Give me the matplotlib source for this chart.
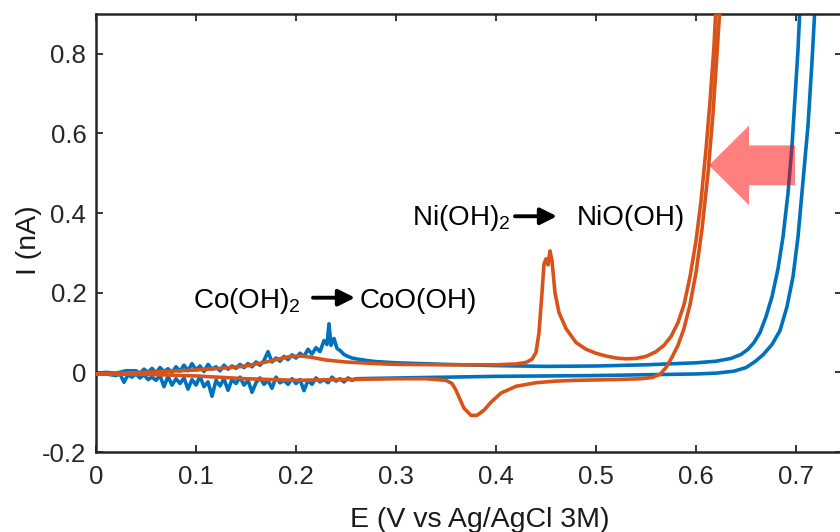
import matplotlib
matplotlib.use("Agg")
import matplotlib.pyplot as plt
from matplotlib.patches import FancyArrow, FancyArrowPatch

plt.rcParams['font.family'] = ['Liberation Sans', 'DejaVu Sans']
plt.rcParams['mathtext.fontset'] = 'custom'
plt.rcParams['mathtext.rm'] = 'Liberation Sans'
plt.rcParams['mathtext.it'] = 'Liberation Sans:italic'
plt.rcParams['mathtext.bf'] = 'Liberation Sans:bold'

# ---------------- data ----------------
# Blue CV loop: forward (upper) branch, then reverse (lower) branch
blue_E = [0.000, 0.010, 0.020, 0.030,
          0.040, 0.044, 0.048, 0.052, 0.056, 0.060, 0.064, 0.068, 0.072, 0.076,
          0.080, 0.084, 0.088, 0.092, 0.096, 0.100, 0.104, 0.108, 0.112, 0.116,
          0.120, 0.124, 0.128, 0.132, 0.136, 0.140, 0.144, 0.148, 0.152, 0.156,
          0.160, 0.164, 0.168, 0.172, 0.176, 0.180, 0.184, 0.188, 0.192, 0.196,
          0.200, 0.204, 0.208, 0.212, 0.216, 0.220, 0.224, 0.228, 0.231, 0.233,
          0.235, 0.238, 0.241, 0.244, 0.248, 0.252, 0.256, 0.260,
          0.270, 0.280, 0.300, 0.350, 0.400, 0.450, 0.500, 0.550, 0.600, 0.620,
          0.635, 0.645, 0.652, 0.658, 0.664, 0.670, 0.676, 0.682, 0.687, 0.692,
          0.696, 0.699, 0.702, 0.704,
          0.719, 0.716, 0.712, 0.707, 0.702, 0.697, 0.691, 0.684, 0.676, 0.667,
          0.659, 0.650, 0.638, 0.620, 0.600, 0.550, 0.500, 0.450, 0.400, 0.350,
          0.300, 0.280,
          0.260, 0.256, 0.252, 0.248, 0.244, 0.240, 0.236, 0.232, 0.228, 0.224,
          0.220, 0.216, 0.212, 0.208, 0.204, 0.200, 0.196, 0.192, 0.188, 0.184,
          0.180, 0.176, 0.172, 0.168, 0.164, 0.160, 0.156, 0.152, 0.148, 0.144,
          0.140, 0.136, 0.132, 0.128, 0.124, 0.120, 0.116, 0.112, 0.108, 0.104,
          0.100, 0.096, 0.092, 0.088, 0.084, 0.080, 0.076, 0.072, 0.068, 0.064,
          0.060, 0.056, 0.052, 0.048, 0.044, 0.040, 0.036, 0.032, 0.028, 0.024,
          0.020, 0.010, 0.000]
blue_I = [-0.003, 0.000, -0.002, 0.004,
          0.004, -0.002, 0.008, 0.000, 0.010, -0.001, 0.012, 0.002, 0.009, 0.000,
          0.014, 0.003, 0.018, 0.004, 0.022, 0.006, 0.016, 0.002, 0.020, 0.008,
          0.014, 0.004, 0.018, 0.008, 0.016, 0.010, 0.020, 0.012, 0.022, 0.014,
          0.026, 0.018, 0.030, 0.052, 0.026, 0.036, 0.028, 0.040, 0.032, 0.044,
          0.036, 0.048, 0.040, 0.058, 0.046, 0.062, 0.052, 0.080, 0.070, 0.122,
          0.068, 0.085, 0.060, 0.055, 0.045, 0.040, 0.036, 0.034,
          0.030, 0.027, 0.024, 0.020, 0.017, 0.015, 0.016, 0.019, 0.024, 0.028,
          0.035, 0.045, 0.058, 0.075, 0.100, 0.140, 0.190, 0.260, 0.340, 0.450,
          0.570, 0.690, 0.810, 0.920,
          0.920, 0.780, 0.620, 0.480, 0.340, 0.240, 0.165, 0.105, 0.070, 0.044,
          0.027, 0.012, 0.003, -0.002, -0.004, -0.006, -0.008, -0.009, -0.010, -0.012,
          -0.014, -0.015,
          -0.016, -0.020, -0.014, -0.024, -0.016, -0.022, -0.012, -0.026, -0.018, -0.024,
          -0.014, -0.030, -0.020, -0.046, -0.018, -0.028, -0.016, -0.030, -0.020, -0.026,
          -0.012, -0.040, -0.020, -0.030, -0.014, -0.026, -0.050, -0.020, -0.032, -0.012,
          -0.028, -0.018, -0.045, -0.016, -0.034, -0.020, -0.060, -0.024, -0.036, -0.010,
          -0.032, -0.018, -0.042, -0.014, -0.028, -0.016, -0.032, -0.010, -0.036, -0.008,
          -0.020, -0.012, -0.018, -0.006, -0.014, -0.004, -0.012, -0.006, -0.025, -0.004,
          -0.008, -0.004, -0.003]

# Orange CV loop: forward (upper, with Ni peak) branch, then reverse (lower) branch
orange_E = [0.000, 0.050, 0.100, 0.130, 0.150, 0.170, 0.185, 0.195, 0.205, 0.215,
            0.230, 0.250, 0.280, 0.300, 0.350, 0.400, 0.420, 0.430, 0.436, 0.440,
            0.443, 0.446, 0.448, 0.450, 0.452, 0.454, 0.456, 0.459, 0.463, 0.470,
            0.480, 0.490, 0.500, 0.510, 0.520, 0.530, 0.540, 0.550, 0.560, 0.568,
            0.575, 0.582, 0.588, 0.594, 0.600, 0.605, 0.610, 0.614, 0.618, 0.620,
            0.624, 0.621, 0.617, 0.612, 0.606, 0.600, 0.594, 0.588, 0.582, 0.576,
            0.570, 0.564, 0.556, 0.545, 0.520, 0.500, 0.480, 0.460, 0.440, 0.420,
            0.405, 0.395, 0.388, 0.381, 0.375, 0.368, 0.364, 0.360, 0.356, 0.350,
            0.330, 0.300, 0.250, 0.200, 0.150, 0.100, 0.050, 0.000]
orange_I = [-0.004, 0.000, 0.006, 0.011, 0.016, 0.026, 0.035, 0.040, 0.041, 0.038,
            0.031, 0.026, 0.022, 0.020, 0.019, 0.019, 0.021, 0.025, 0.033, 0.050,
            0.100, 0.200, 0.272, 0.285, 0.270, 0.305, 0.280, 0.200, 0.150, 0.110,
            0.075, 0.058, 0.048, 0.041, 0.036, 0.034, 0.035, 0.040, 0.052, 0.068,
            0.090, 0.125, 0.170, 0.240, 0.330, 0.430, 0.560, 0.680, 0.820, 0.920,
            0.920, 0.800, 0.650, 0.500, 0.360, 0.250, 0.170, 0.110, 0.068, 0.038,
            0.012, -0.005, -0.013, -0.016, -0.018, -0.019, -0.020, -0.022, -0.026, -0.035,
            -0.052, -0.075, -0.095, -0.108, -0.108, -0.090, -0.068, -0.045, -0.028, -0.020,
            -0.016, -0.016, -0.018, -0.020, -0.016, -0.009, -0.005, -0.004]

x_ticks = [0, 0.1, 0.2, 0.3, 0.4, 0.5, 0.6, 0.7]
x_tick_labels = ['0', '0.1', '0.2', '0.3', '0.4', '0.5', '0.6', '0.7']
y_ticks = [-0.2, 0, 0.2, 0.4, 0.6, 0.8]
y_tick_labels = ['-0.2', '0', '0.2', '0.4', '0.6', '0.8']

# ---------------- figure ----------------
fig = plt.figure(figsize=(8.4, 5.32), dpi=100)
ax = fig.add_axes([96 / 840, 80 / 532, 746 / 840, 438 / 532])

blue = '#0072BD'
orange = '#D95319'
ax.plot(blue_E, blue_I, color=blue, lw=2.6, zorder=2, solid_joinstyle='round')
ax.plot(orange_E, orange_I, color=orange, lw=2.6, zorder=3, solid_joinstyle='round')

ax.set_xlim(0, 0.746)
ax.set_ylim(-0.2, 0.9)
ax.set_xticks(x_ticks)
ax.set_xticklabels(x_tick_labels)
ax.set_yticks(y_ticks)
ax.set_yticklabels(y_tick_labels)

tick_color = '#262626'
ax.tick_params(direction='in', length=5, width=1.3, colors=tick_color,
               labelsize=18.5, top=True, right=True)
ax.tick_params(axis='x', pad=9)
ax.tick_params(axis='y', pad=7)
for s in ax.spines.values():
    s.set_linewidth(1.8)
    s.set_color(tick_color)

ax.set_xlabel('E (V vs Ag/AgCl 3M)', fontsize=20.5, color='#1a1a1a')
ax.xaxis.set_label_coords(0.515, -0.125)
ax.set_ylabel('I (nA)', fontsize=20.5, color='#1a1a1a')
ax.yaxis.set_label_coords(-0.072, 0.484)

# annotations
fs = 20
ax.text(0.097, 0.1625, 'Co(OH)$_2$', fontsize=fs, ha='left', va='baseline')
ax.text(0.264, 0.1625, 'CoO(OH)', fontsize=fs, ha='left', va='baseline')
ax.text(0.316, 0.37, 'Ni(OH)$_2$', fontsize=fs, ha='left', va='baseline')
ax.text(0.481, 0.37, 'NiO(OH)', fontsize=fs, ha='left', va='baseline')

for (x0, x1, yy) in [(0.217, 0.259, 0.1875), (0.419, 0.461, 0.392)]:
    ax.add_patch(FancyArrowPatch((x0, yy), (x1, yy),
                                 arrowstyle='-|>,head_length=0.5,head_width=0.25',
                                 mutation_scale=20, lw=2.8, color='black',
                                 shrinkA=0, shrinkB=0, zorder=5))

# big translucent arrow
ax.add_patch(FancyArrow(0.699, 0.52, -0.086, 0.0, width=0.1, head_width=0.2,
                        head_length=0.04, length_includes_head=True,
                        facecolor=(1, 0, 0, 0.5), edgecolor='none', lw=0, zorder=6))

fig.savefig('out.png', dpi=100)
